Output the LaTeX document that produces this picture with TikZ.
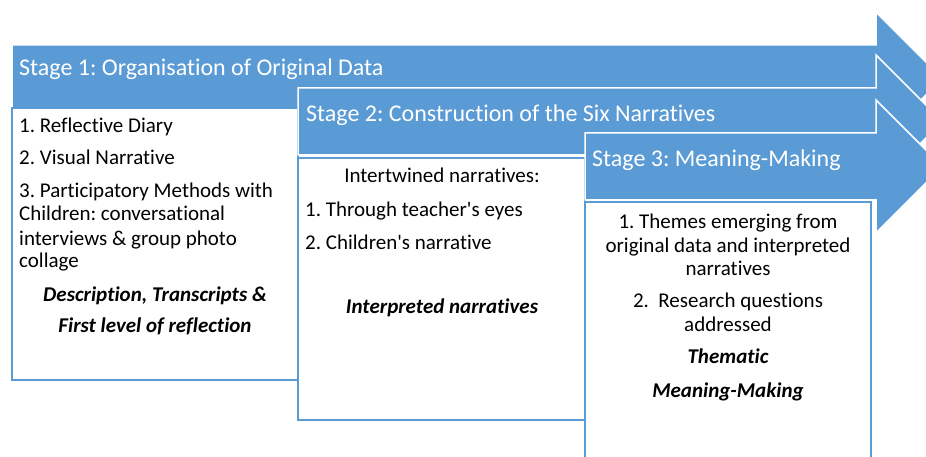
\documentclass[tikz,border=0pt]{standalone}
\usepackage{fontspec}
\setmainfont{Carlito}[Ligatures={NoCommon,NoContextual}]
\frenchspacing
\definecolor{sblue}{HTML}{5B9BD5}
\begin{document}
\frenchspacing
\begin{tikzpicture}[x=1pt,y=-1pt,
  arrowshape/.style={fill=sblue,draw=white,line width=1.5pt,line join=miter},
  boxshape/.style={fill=white,draw=sblue,line width=2pt},
  head/.style={text=white,font=\fontsize{24}{28}\selectfont,inner sep=0pt,anchor=base west},
  body/.style={text=black,font=\fontsize{21}{25}\selectfont,inner sep=0pt,anchor=base west},
  bodyc/.style={body,anchor=base},
  emphc/.style={bodyc,font=\fontsize{21}{25}\selectfont\bfseries\itshape}]
\useasboundingbox (0,0) rectangle (926,457);
\clip (0,0) rectangle (926,457);
% Stage 1
\draw[arrowshape] (12,45) -- (876,45) -- (876,12) -- (942.5,78.5) -- (876,145) -- (876,112) -- (12,112) -- cycle;
\draw[boxshape] (12,108) rectangle (298,380);
% Stage 2
\draw[arrowshape] (298,88) -- (876,88) -- (876,55) -- (942.5,121.5) -- (876,188) -- (876,155) -- (298,155) -- cycle;
\draw[boxshape] (298,158) rectangle (585,420);
% Stage 3
\draw[arrowshape] (585,133) -- (876,133) -- (876,100) -- (942.5,166.5) -- (876,233) -- (876,200) -- (585,200) -- cycle;
\draw[boxshape] (585,202) rectangle (871,470);
% headers
\node[head] (h1) at (19,76) {Stage 1: Organisation of Original Data};
\node[head] (h2) at (306,122) {Stage 2: Construction of the Six Narratives};
\node[head] (h3) at (592,167) {Stage 3: Meaning-Making};
% box 1
\node[body] (a1) at (19,133) {1. Reflective Diary};
\node[body] (a2) at (19,165) {2. Visual Narrative};
\node[body] (a3) at (19,198) {3. Participatory Methods with};
\node[body] (a4) at (19,221) {Children: conversational};
\node[body] (a5) at (19,245) {interviews \& group photo};
\node[body] (a6) at (19,267) {collage};
\node[emphc] (a7) at (155,301) {Description, Transcripts \&};
\node[emphc] (a8) at (155,332) {First level of reflection};
% box 2
\node[bodyc] (b1) at (442,183) {Intertwined narratives:};
\node[body] (b2) at (305,217) {1. Through teacher\textquotesingle s eyes};
\node[body] (b3) at (305,249) {2. Children\textquotesingle s narrative};
\node[emphc] (b4) at (442,313) {Interpreted narratives};
% box 3
\node[bodyc] (c1) at (728,229) {1. Themes emerging from};
\node[bodyc] (c2) at (728,252) {original data and interpreted};
\node[bodyc] (c3) at (728,275) {narratives};
\node[bodyc] (c4) at (728,307) {2.~ Research questions};
\node[bodyc] (c5) at (728,331) {addressed};
\node[emphc] (c6) at (728,363) {Thematic};
\node[emphc] (c7) at (728,397) {Meaning-Making};
\end{tikzpicture}
\end{document}
